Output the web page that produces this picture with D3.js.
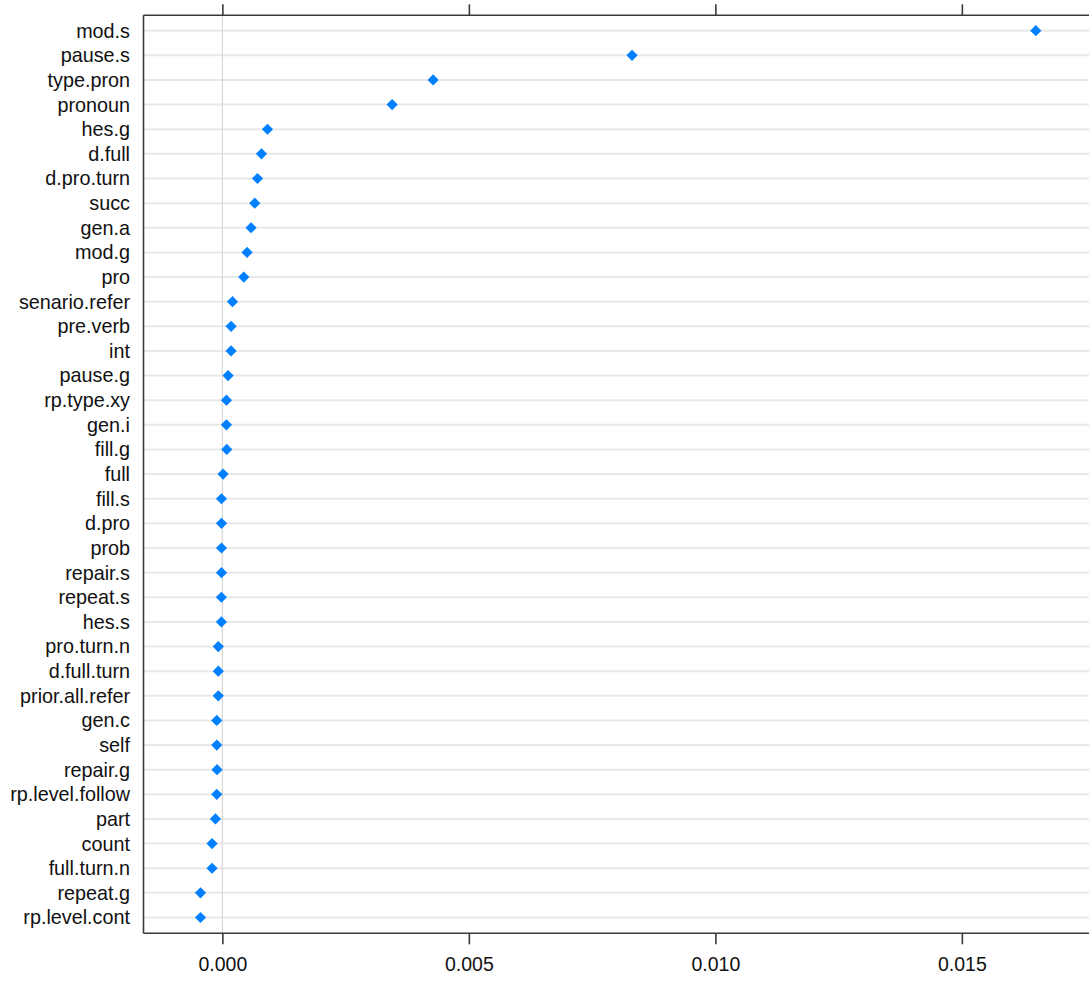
<!DOCTYPE html>
<html>
<head>
<meta charset="utf-8">
<script src="https://cdn.jsdelivr.net/npm/d3@7"></script>
<style>
  html, body { margin: 0; padding: 0; background: #fff; overflow: hidden; }
  svg { display: block; }
  text { font-family: "Liberation Sans", Arial, sans-serif; fill: #111; }
</style>
</head>
<body>
<svg id="chart" width="1089" height="983"></svg>
<script>
// Variable importance (mean decrease), one row per predictor, top to bottom
const variables = [
  "mod.s", "pause.s", "type.pron", "pronoun", "hes.g", "d.full", "d.pro.turn",
  "succ", "gen.a", "mod.g", "pro", "senario.refer", "pre.verb", "int",
  "pause.g", "rp.type.xy", "gen.i", "fill.g", "full", "fill.s", "d.pro",
  "prob", "repair.s", "repeat.s", "hes.s", "pro.turn.n", "d.full.turn",
  "prior.all.refer", "gen.c", "self", "repair.g", "rp.level.follow", "part",
  "count", "full.turn.n", "repeat.g", "rp.level.cont"
];
const importance = [
  0.01650, 0.00831, 0.004275, 0.003443, 0.000915, 0.000793, 0.000712,
  0.000657, 0.000582, 0.000501, 0.000434, 0.000205, 0.000177, 0.000177,
  0.000116, 0.000083, 0.000083, 0.000089, 0.000014, -0.000018, -0.000018,
  -0.000018, -0.000018, -0.000020, -0.000020, -0.000083, -0.000083,
  -0.000083, -0.000114, -0.000114, -0.000108, -0.000114, -0.000140,
  -0.000209, -0.000209, -0.000444, -0.000444
];
const xTicks = [0, 0.005, 0.010, 0.015];
const xDomain = [-0.0016, 0.01766];

const svg = d3.select("#chart");
const panel = { left: 143.5, top: 15.3, bottom: 933.3, right: 1093 };

const x = d3.scaleLinear().domain(xDomain).range([panel.left, panel.right]);
const y = d3.scalePoint().domain(variables).range([30.7, 917.5]);

const rows = variables.map((v, i) => ({ name: v, value: importance[i] }));

// horizontal reference lines for each row
svg.append("g")
  .selectAll("line")
  .data(rows)
  .join("line")
  .attr("x1", panel.left)
  .attr("x2", panel.right)
  .attr("y1", d => y(d.name))
  .attr("y2", d => y(d.name))
  .attr("stroke", "#e8e8e8")
  .attr("stroke-width", 2);

// vertical line at zero
svg.append("line")
  .attr("x1", x(0)).attr("x2", x(0))
  .attr("y1", panel.top).attr("y2", panel.bottom)
  .attr("stroke", "#d9d9d9")
  .attr("stroke-width", 1.3);

// points
svg.append("g")
  .selectAll("path")
  .data(rows)
  .join("path")
  .attr("transform", d => `translate(${x(d.value)},${y(d.name)})`)
  .attr("d", "M0,-5.6L5.6,0L0,5.6L-5.6,0Z")
  .attr("fill", "#0080ff");

// panel frame (left, top, bottom)
const frame = svg.append("g").attr("fill", "none").attr("stroke", "#3a3a3a").attr("stroke-width", 1.6);
frame.append("line").attr("x1", panel.left).attr("x2", panel.left).attr("y1", panel.top).attr("y2", panel.bottom);
frame.append("line").attr("x1", panel.left).attr("x2", panel.right).attr("y1", panel.top).attr("y2", panel.top);
frame.append("line").attr("x1", panel.left).attr("x2", panel.right).attr("y1", panel.bottom).attr("y2", panel.bottom);

// bottom axis with labels
const bottomAxis = d3.axisBottom(x).tickValues(xTicks).tickFormat(d3.format(".3f"))
  .tickSize(11).tickPadding(13);
const gb = svg.append("g").attr("transform", `translate(0,${panel.bottom})`).call(bottomAxis);
gb.select(".domain").remove();
gb.selectAll(".tick line").attr("stroke", "#3a3a3a").attr("stroke-width", 1.6);
gb.selectAll(".tick text").attr("font-size", 19.5).attr("fill", "#111")
  .attr("font-family", "Liberation Sans, Arial, sans-serif");

// top axis ticks only
const topAxis = d3.axisTop(x).tickValues(xTicks).tickSize(11).tickFormat("");
const gt = svg.append("g").attr("transform", `translate(0,${panel.top})`).call(topAxis);
gt.select(".domain").remove();
gt.selectAll(".tick line").attr("stroke", "#3a3a3a").attr("stroke-width", 1.6);

// row labels
svg.append("g")
  .selectAll("text")
  .data(rows)
  .join("text")
  .attr("x", 130)
  .attr("y", d => y(d.name))
  .attr("dy", "0.35em")
  .attr("text-anchor", "end")
  .attr("font-size", 19.8)
  .text(d => d.name);
</script>
</body>
</html>
